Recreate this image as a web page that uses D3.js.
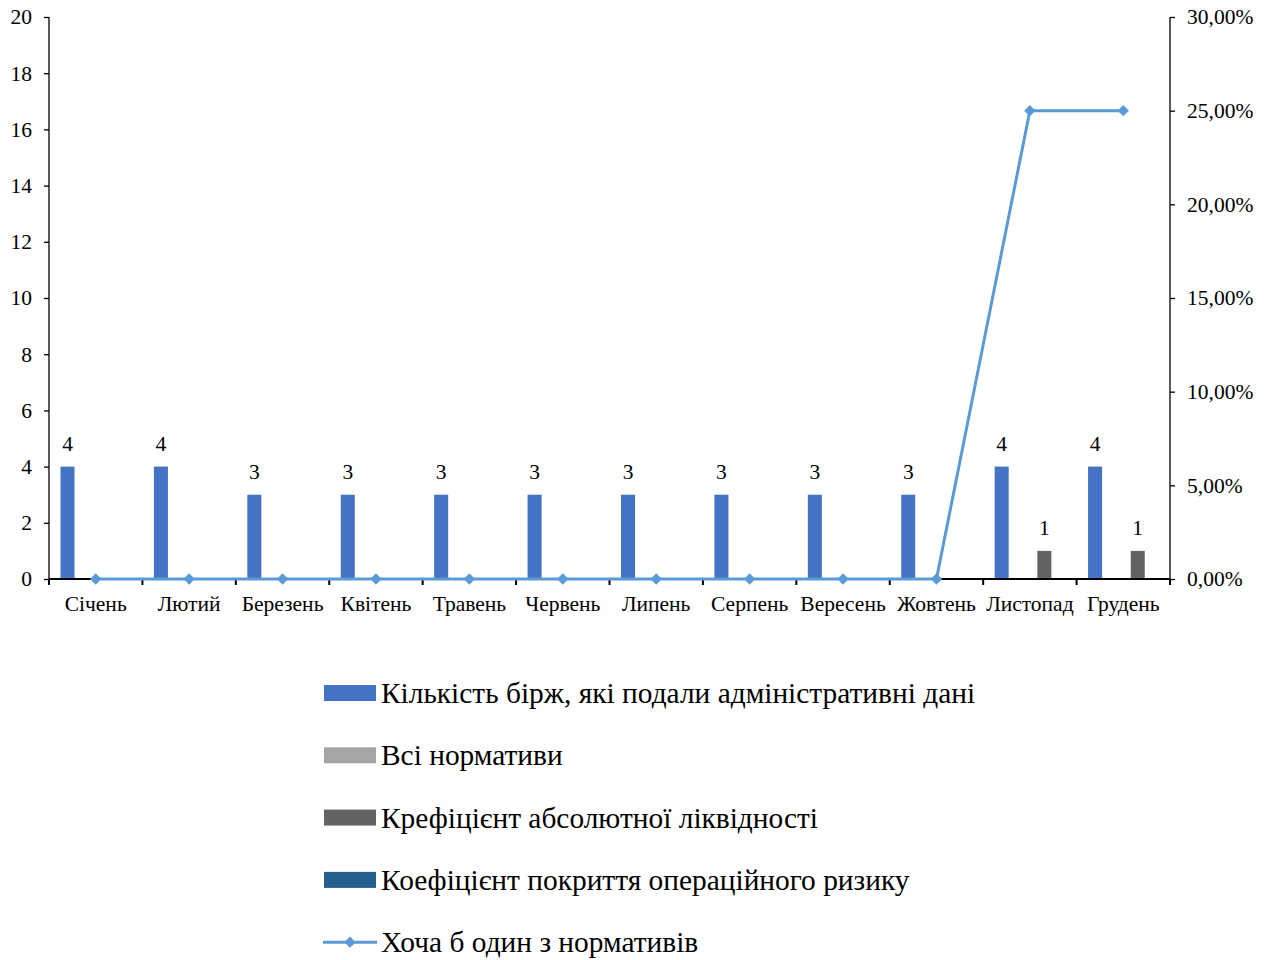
<!DOCTYPE html>
<html><head><meta charset="utf-8">
<script src="https://cdn.jsdelivr.net/npm/d3@7"></script>
<style>body{margin:0;background:#fff;} text{font-family:"Liberation Serif","Times New Roman",serif;fill:#000;}</style>
</head><body>
<svg id="c" width="1271" height="960"></svg>
<script>
const months = ["Січень","Лютий","Березень","Квітень","Травень","Червень","Липень","Серпень","Вересень","Жовтень","Листопад","Грудень"];
const seriesNames = ["Кількість бірж, які подали адміністративні дані","Всі нормативи","Крефіцієнт абсолютної ліквідності","Коефіцієнт покриття операційного ризику"];
const exchanges = [4,4,3,3,3,3,3,3,3,3,4,4];
const allNorms = [0,0,0,0,0,0,0,0,0,0,0,0];
const liquidity = [0,0,0,0,0,0,0,0,0,0,1,1];
const opRisk = [0,0,0,0,0,0,0,0,0,0,0,0];
const lineName = "Хоча б один з нормативів";
const atLeastOne = [0,0,0,0,0,0,0,0,0,0,0.25,0.25];
const leftTicks = [0,2,4,6,8,10,12,14,16,18,20];
const rightTicks = [0,0.05,0.10,0.15,0.20,0.25,0.30];
const colors = ["#4472C4","#A5A5A5","#636363","#255E91"];
const lineColor = "#5B9BD5";

const barSeries = [exchanges, allNorms, liquidity, opRisk];
const svg = d3.select("#c");
const L = 49, R = 1170, T = 17, B = 579;
const FS = 21.5;
const x = d3.scaleBand().domain(months).range([L, R]).padding(0);
const inner = d3.scaleBand().domain(d3.range(4)).range([11.5, 89.5]).paddingInner(0.343).paddingOuter(0);
const y = d3.scaleLinear().domain([0,20]).range([B, T]);
const y2 = d3.scaleLinear().domain([0,0.30]).range([B, T]);

// bars
barSeries.forEach((vals, si) => {
  const g = svg.append("g");
  g.selectAll("rect").data(vals).join("rect")
    .attr("x", (d,i) => x(months[i]) + inner(si))
    .attr("width", inner.bandwidth())
    .attr("y", d => y(d))
    .attr("height", d => B - y(d))
    .attr("fill", colors[si]);
  g.selectAll("text").data(vals.map((d,i)=>({d,i})).filter(o=>o.d>0)).join("text")
    .attr("x", o => x(months[o.i]) + inner(si) + inner.bandwidth()/2)
    .attr("y", o => y(o.d) - 16)
    .attr("text-anchor","middle").attr("font-size",FS)
    .text(o => o.d);
});

// axes
const axL = d3.axisLeft(y).tickValues(leftTicks).tickSize(5).tickPadding(12);
const gL = svg.append("g").attr("transform",`translate(${L},0)`).call(axL);
const axR = d3.axisRight(y2).tickValues(rightTicks).tickSize(5).tickPadding(12)
  .tickFormat(d => d3.format(".2f")(d*100).replace(".",",") + "%");
const gR = svg.append("g").attr("transform",`translate(${R},0)`).call(axR);
const gX = svg.append("g").attr("transform",`translate(0,${B})`);
gX.append("line").attr("x1",L).attr("x2",R).attr("stroke","#000").attr("stroke-width",2);
gX.selectAll("line.t").data(months.concat(["end"])).join("line").attr("class","t")
  .attr("x1",(d,i)=> i<12 ? x(d) : R).attr("x2",(d,i)=> i<12 ? x(d) : R)
  .attr("y1",0).attr("y2",6).attr("stroke","#000").attr("stroke-width",2);
gX.selectAll("text").data(months).join("text")
  .attr("x", d => x(d) + x.bandwidth()/2).attr("y", 32)
  .attr("text-anchor","middle").attr("font-size",FS).text(d=>d);
[gL,gR].forEach(g => {
  g.selectAll("text").attr("font-size",FS).style("font-family",'"Liberation Serif",serif');
  g.selectAll("line,path").attr("stroke","#000").attr("stroke-width",1.3);
  g.select(".domain").attr("d", `M0,${T}V${B}`);
});

// line
const lineGen = d3.line().x((d,i) => x(months[i]) + x.bandwidth()/2).y(d => y2(d));
svg.append("path").datum(atLeastOne).attr("d", lineGen)
  .attr("fill","none").attr("stroke",lineColor).attr("stroke-width",3);
const diamond = d3.symbol().type(d3.symbolSquare).size(64);
svg.selectAll("path.m").data(atLeastOne).join("path").attr("class","m")
  .attr("transform",(d,i)=>`translate(${x(months[i]) + x.bandwidth()/2},${y2(d)}) rotate(45)`)
  .attr("d", diamond).attr("fill",lineColor);

// legend
const lg = svg.append("g");
const rows = seriesNames.concat([lineName]);
rows.forEach((name, i) => {
  const cy = 693 + i*62.3;
  if (i < 4) {
    lg.append("rect").attr("x",324).attr("y",cy-8).attr("width",52).attr("height",16).attr("fill",colors[i]);
  } else {
    lg.append("line").attr("x1",323).attr("x2",377).attr("y1",cy).attr("y2",cy).attr("stroke",lineColor).attr("stroke-width",3);
    lg.append("path").attr("transform",`translate(350,${cy}) rotate(45)`).attr("d",diamond).attr("fill",lineColor);
  }
  lg.append("text").attr("x",381).attr("y",cy+10).attr("font-size",29.4).text(name);
});
</script>
</body></html>
